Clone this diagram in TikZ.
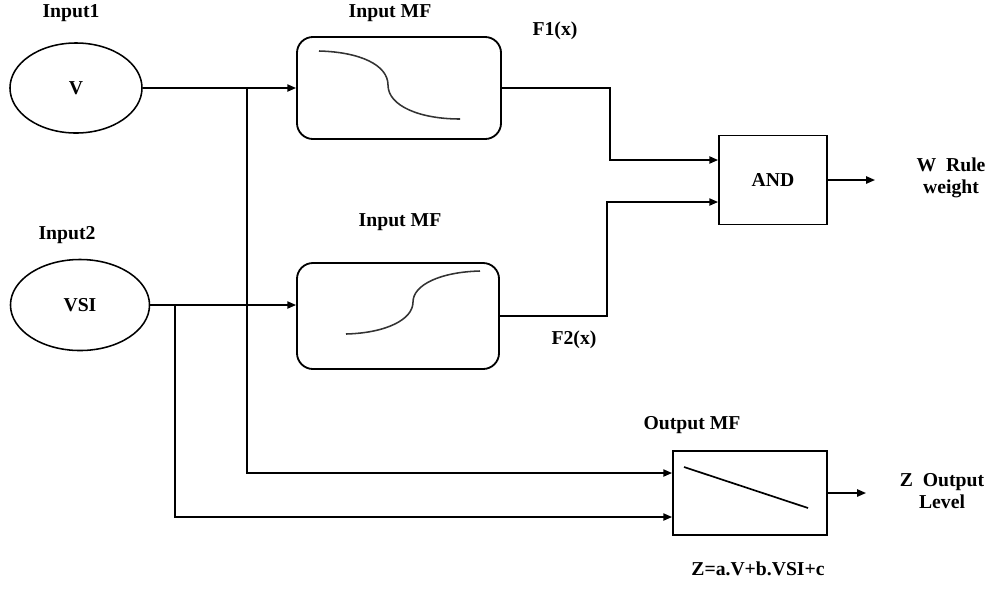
\documentclass[tikz,border=0pt]{standalone}
\usepackage{fontspec}
\setmainfont{Liberation Serif}
\usepackage{tikz}
\usetikzlibrary{positioning, arrows.meta, calc, shapes.geometric}

\begin{document}
\begin{tikzpicture}[x=0.025cm, y=-0.025cm,
        every node/.style={font=\fontsize{14}{16}\selectfont\bfseries},
        inp/.style={ellipse, draw, line width=1.1pt, inner sep=0pt},
        mfbox/.style={rectangle, rounded corners=0.4cm, draw, line width=1.3pt,
          minimum width=5.1cm, inner sep=0pt},
        blk/.style={rectangle, draw, line width=1.3pt, inner sep=0pt},
        lbl/.style={align=center, inner sep=0pt},
        arr/.style={-{Triangle[length=2.2mm, width=1.8mm]}, line width=1.2pt}]
      \useasboundingbox (0,0) rectangle (997,588);
      % inputs
      \node[inp, minimum width=3.3cm, minimum height=2.25cm] (v) at (76,88) {V};
      \node[inp, minimum width=3.475cm, minimum height=2.275cm] (vsi) at (80,305) {VSI};
      \node[lbl] (in1) at (71,13) {Input1};
      \node[lbl] (in2) at (67,235) {Input2};
      % membership functions
      \node[mfbox, minimum height=2.55cm] (mf1) at (399,88) {};
      \node[mfbox, minimum width=5.05cm, minimum height=2.65cm] (mf2) at (398,316) {};
      \node[lbl] (mf1t) at (390,13) {Input MF};
      \node[lbl] (mf2t) at (400,222) {Input MF};
      \draw[line width=1.1pt, black!80] (319,51) .. controls (360,52) and (388,65) .. (388,85)
        .. controls (388,106) and (420,119) .. (460,119);
      \draw[line width=1.1pt, black!80] (346,334) .. controls (385,333) and (413,320) .. (413,302)
        .. controls (413,285) and (440,272) .. (480,271);
      \node[lbl] (f1) at (555,31) {F1(x)};
      \node[lbl] (f2) at (574,340) {F2(x)};
      % rule and output
      \node[blk, minimum width=2.7cm, minimum height=2.225cm] (and) at (773,180) {AND};
      \node[blk, minimum width=3.85cm, minimum height=2.1cm] (omf) at (750,493) {};
      \draw[line width=1.2pt] (684,467) -- (808,508);
      \node[lbl] (omft) at (692,425) {Output MF};
      \node[lbl] (zeq) at (758,569) {Z=a.V+b.VSI+c};
      \node[lbl] (w) at (951,178) {W\ \ Rule\\weight};
      \node[lbl] (z) at (942,491) {Z\ \ Output\\Level};
      \coordinate (b1) at (247,88);
      \coordinate (b2) at (175,305);
      \coordinate (j1) at (610,0);
      \coordinate (j2) at (607,0);
      \coordinate (wend) at (875,180);
      \coordinate (zend) at (866,493);
      % connectors
      \draw[arr] (v.east) -- (mf1.west |- v.east);
      \draw[arr] (vsi.east) -- (mf2.west |- vsi.east);
      \draw[arr] (b1) |- ([yshift=0.5cm]omf.west);
      \draw[arr] (b2) |- ([yshift=-0.6cm]omf.west);
      \draw[arr] (mf1.east) -- (mf1.east -| j1) |- ([yshift=0.5cm]and.west);
      \draw[arr] (mf2.east) -- (mf2.east -| j2) |- ([yshift=-0.55cm]and.west);
      \draw[arr] (and.east) -- (wend);
      \draw[arr] (omf.east) -- (zend);
    \end{tikzpicture}
\end{document}
